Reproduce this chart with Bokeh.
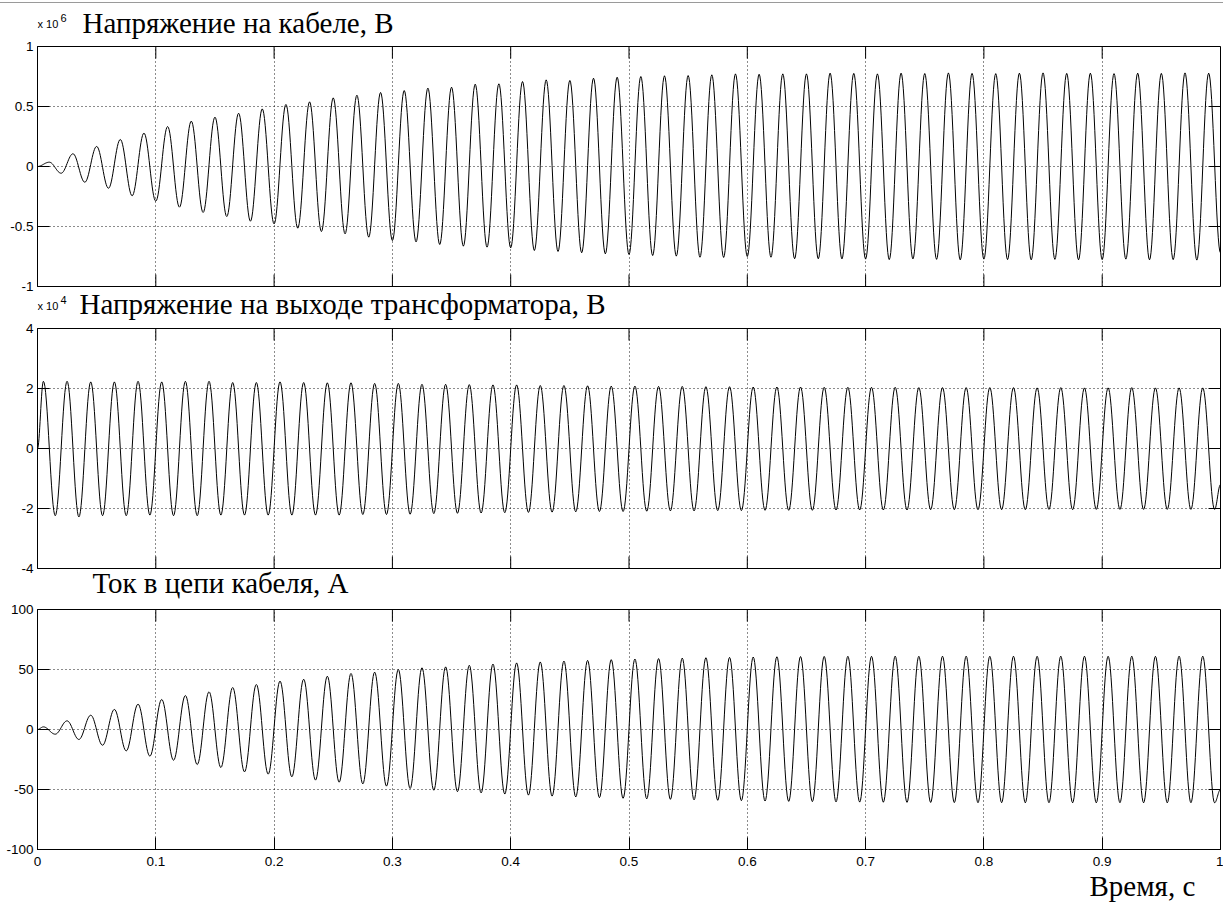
import numpy as np
from bokeh.plotting import figure
from bokeh.layouts import column
from bokeh.models import Range1d, FixedTicker, CustomJSTickFormatter, Label, Div
from bokeh.embed import file_html
from bokeh.resources import INLINE

# ---------------- data ----------------
X_TICKS = [0, 0.1, 0.2, 0.3, 0.4, 0.5, 0.6, 0.7, 0.8, 0.9, 1]
Y1_TICKS = [-1, -0.5, 0, 0.5, 1]
Y2_TICKS = [-4, -2, 0, 2, 4]
Y3_TICKS = [-100, -50, 0, 50, 100]

TITLE_1 = "Напряжение на кабеле, В"
TITLE_2 = "Напряжение на выходе трансформатора, В"
TITLE_3 = "Ток в цепи кабеля, А"
X_LABEL = "Время, с"
EXP_BASE = "x 10"
EXP_1 = "6"
EXP_2 = "4"

PERIOD = 0.02          # 50 Hz
T_END = 1.0

# Panel 1: cable voltage (x10^6 V); maxima at 0.01, 0.03, ... ; minima at 0.02, 0.04, ..., 1.00
V1_START = 0.0
V1_MAX = [0.036, 0.106, 0.167, 0.225, 0.278, 0.333, 0.378, 0.411, 0.444, 0.48,
          0.517, 0.539, 0.572, 0.594, 0.617, 0.633, 0.653, 0.661, 0.686, 0.689,
          0.708, 0.722, 0.717, 0.736, 0.744, 0.75, 0.756, 0.758, 0.764, 0.772,
          0.769, 0.772, 0.772, 0.778, 0.776, 0.772, 0.778, 0.775, 0.78, 0.776,
          0.774, 0.778, 0.78, 0.776, 0.778, 0.774, 0.778, 0.776, 0.78, 0.778]
V1_MIN = [-0.056, -0.131, -0.181, -0.244, -0.289, -0.339, -0.383, -0.417, -0.456, -0.478,
          -0.514, -0.542, -0.561, -0.589, -0.617, -0.628, -0.65, -0.664, -0.672, -0.678,
          -0.70, -0.708, -0.719, -0.728, -0.733, -0.742, -0.747, -0.756, -0.758, -0.75,
          -0.756, -0.769, -0.769, -0.77, -0.772, -0.776, -0.77, -0.774, -0.778, -0.772,
          -0.776, -0.778, -0.774, -0.778, -0.776, -0.772, -0.778, -0.776, -0.78, -0.72]

# Panel 2: transformer output voltage (x10^4 V); maxima at 0.005 + k*0.02, minima at 0.015 + k*0.02
V2_START = 0.0
V2_MAX = [2.24, 2.24, 2.22, 2.22, 2.24, 2.22, 2.24, 2.24, 2.2, 2.2,
          2.22, 2.2, 2.19, 2.19, 2.17, 2.17, 2.14, 2.14, 2.13, 2.12,
          2.12, 2.1, 2.1, 2.09, 2.08, 2.08, 2.07, 2.07, 2.06, 2.06,
          2.05, 2.05, 2.05, 2.04, 2.04, 2.04, 2.04, 2.03, 2.03, 2.03,
          2.03, 2.03, 2.02, 2.03, 2.02, 2.02, 2.03, 2.02, 2.02, 2.02]
V2_MIN = [-2.24, -2.28, -2.24, -2.24, -2.22, -2.24, -2.24, -2.22, -2.22, -2.22,
          -2.22, -2.22, -2.22, -2.2, -2.2, -2.19, -2.17, -2.16, -2.15, -2.14,
          -2.13, -2.12, -2.11, -2.1, -2.1, -2.09, -2.08, -2.08, -2.07, -2.07,
          -2.06, -2.06, -2.06, -2.05, -2.05, -2.05, -2.05, -2.04, -2.04, -2.04,
          -2.04, -2.04, -2.03, -2.04, -2.03, -2.03, -2.03, -2.03, -2.03, -2.03]
V2_END = -1.2

# Panel 3: cable current (A); maxima at 0.005 + k*0.02, minima at 0.015 + k*0.02
I3_START = 0.0
I3_MAX = [2.2, 7.2, 11.9, 16.7, 21.1, 25.0, 28.3, 31.4, 35.0, 37.5,
          40.3, 41.9, 44.4, 46.7, 47.8, 50.0, 51.4, 52.2, 53.5, 54.5,
          55.5, 56.3, 57.0, 57.6, 58.2, 58.7, 59.1, 59.5, 59.8, 60.1,
          60.4, 60.6, 60.8, 60.9, 61.0, 61.0, 61.1, 61.0, 61.1, 61.1,
          61.0, 61.1, 61.0, 61.1, 61.1, 61.0, 61.1, 61.0, 61.1, 61.1]
I3_MIN = [-3.9, -8.3, -13.1, -17.8, -22.2, -25.6, -29.2, -31.7, -35.3, -37.2,
          -39.4, -42.2, -43.9, -45.3, -47.2, -49.2, -50.6, -51.8, -52.8, -53.8,
          -54.7, -55.5, -56.2, -56.8, -57.3, -57.8, -58.2, -58.6, -59.0, -59.3,
          -59.6, -59.9, -60.1, -60.3, -60.5, -60.6, -60.7, -60.8, -60.9, -61.0,
          -61.0, -61.1, -61.0, -61.1, -61.1, -61.0, -61.1, -61.1, -61.0, -61.1]
I3_END = -50.0


# ---------------- waveform through the read extrema ----------------
def extrema_series(first_max_t, start_v, maxima, minima, end_v=None):
    ts, vs = [0.0], [start_v]
    for k, (mx, mn) in enumerate(zip(maxima, minima)):
        tmax = first_max_t + k * PERIOD
        ts += [tmax, tmax + PERIOD / 2]
        vs += [mx, mn]
    if end_v is not None and ts[-1] < T_END - 1e-9:
        ts.append(T_END)
        vs.append(end_v)
    return ts, vs


def wave(ts, vs, n=16):
    xo, yo = [], []
    s = np.linspace(0.0, 1.0, n, endpoint=False)
    for i in range(len(ts) - 1):
        t0, t1, v0, v1 = ts[i], ts[i + 1], vs[i], vs[i + 1]
        xo.extend(t0 + (t1 - t0) * s)
        yo.extend((v0 + v1) / 2 + (v0 - v1) / 2 * np.cos(np.pi * s))
    xo.append(ts[-1])
    yo.append(vs[-1])
    return xo, yo


# ---------------- styling / layout ----------------
TICK_FONT = "Liberation Sans"
SERIF = "Liberation Serif"
TITLE_PX = 29
EXP_PX = 11
TICK_SIZE = "13.5px"
TICK_LEN = 12
W = 1223
BL, BR = 37, 3
FRAME_H = 240

fmt = CustomJSTickFormatter(code="return tick.toString();")


def style_axis(ax, ticks):
    ax.ticker = FixedTicker(ticks=ticks)
    ax.formatter = fmt
    ax.major_tick_in = TICK_LEN
    ax.major_tick_out = 0
    ax.minor_tick_in = 0
    ax.minor_tick_out = 0
    ax.axis_line_color = "black"
    ax.major_tick_line_color = "black"
    ax.major_label_text_font = TICK_FONT
    ax.major_label_text_font_size = TICK_SIZE
    ax.major_label_text_color = "black"


def panel(ts, vs, yr, yticks, top, bottom, show_x_axis, margin_top=0):
    p = figure(width=W, height=top + FRAME_H + bottom, output_backend="svg",
               toolbar_location=None, x_range=Range1d(0, 1), y_range=Range1d(*yr),
               x_axis_location="below" if show_x_axis else None,
               min_border_left=BL, min_border_right=BR, min_border_top=top,
               min_border_bottom=bottom, background_fill_color="white",
               border_fill_color="white", border_fill_alpha=0.0,
               outline_line_color="black", outline_line_width=1,
               margin=(margin_top, 0, 0, 0))
    xw, yw = wave(ts, vs)
    p.line(xw, yw, line_color="black", line_width=1)

    style_axis(p.yaxis[0], yticks)
    p.yaxis.major_label_standoff = 4
    if show_x_axis:
        style_axis(p.xaxis[0], X_TICKS)
        p.xaxis.major_label_standoff = 7
    else:
        # inward ticks along the bottom edge
        p.ray(x=X_TICKS, y=[yr[0]] * len(X_TICKS), length=TICK_LEN, angle=np.pi / 2,
              length_units="screen", line_color="black", line_width=1)

    p.xgrid.ticker = FixedTicker(ticks=X_TICKS)
    p.ygrid.ticker = FixedTicker(ticks=yticks)
    for g in (p.xgrid[0], p.ygrid[0]):
        g.grid_line_color = "black"
        g.grid_line_dash = "1 3"
        g.grid_line_width = 1
        g.grid_line_alpha = 0.9

    # inward ticks on the top and right edges of the box
    p.ray(x=X_TICKS, y=[yr[1]] * len(X_TICKS), length=TICK_LEN, angle=-np.pi / 2,
          length_units="screen", line_color="black", line_width=1)
    p.ray(x=[1.0] * len(yticks), y=yticks, length=TICK_LEN, angle=np.pi,
          length_units="screen", line_color="black", line_width=1)
    return p


def strip(h, margin_top=0):
    # transparent text band; its frame lines up with the panels' frames
    s = figure(width=W, height=h, output_backend="svg", toolbar_location=None,
               x_range=Range1d(0, 1), y_range=Range1d(0, 1),
               x_axis_location=None, y_axis_location=None,
               min_border_left=BL, min_border_right=BR, min_border_top=0,
               min_border_bottom=0, outline_line_color=None,
               background_fill_color="white", background_fill_alpha=0.0,
               border_fill_color="white", border_fill_alpha=0.0,
               margin=(margin_top, 0, 0, 0))
    s.xgrid.visible = False
    s.ygrid.visible = False
    return s


# the label anchor ends up at the middle of the font box, which sits this far above the baseline
CENTER_SHIFT = {"Liberation Serif": 0.3375, "Liberation Sans": 0.3465}


def text(s, txt, x, strip_bottom, baseline, px, font):
    anchor = baseline - CENTER_SHIFT[font] * px
    s.add_layout(Label(x=x, y=strip_bottom - anchor, x_units="screen", y_units="screen",
                       text=txt, text_font=font, text_font_size=f"{px}px",
                       text_color="black", text_align="left",
                       text_baseline="alphabetic"))


t1, v1 = [0.0], [V1_START]
for k, (mx, mn) in enumerate(zip(V1_MAX, V1_MIN)):
    t1 += [PERIOD / 2 + k * PERIOD, PERIOD + k * PERIOD]
    v1 += [mx, mn]
t2, v2 = extrema_series(PERIOD / 4, V2_START, V2_MAX, V2_MIN, V2_END)
t3, v3 = extrema_series(PERIOD / 4, I3_START, I3_MAX, I3_MIN, I3_END)

# page rows (px): rule 0-3 | s1 3-42 | p1 38-294 | s2 284-322 | p2 320-576 | s3 563-601 | p3 601-873 | s4 868-907
rule = Div(text="", width=W, height=3, margin=(0, 0, 0, 0),
           styles={"border-bottom": "1px solid #9a9a9a", "box-sizing": "border-box"})
s1 = strip(39)
p1 = panel(t1, v1, (-1, 1), Y1_TICKS, 8, 8, False, margin_top=-4)
s2 = strip(38, margin_top=-10)
p2 = panel(t2, v2, (-4, 4), Y2_TICKS, 8, 8, False, margin_top=-2)
s3 = strip(38, margin_top=-13)
p3 = panel(t3, v3, (-100, 100), Y3_TICKS, 8, 24, True)
s4 = strip(39, margin_top=-5)

# text, x from frame left, strip bottom (page px), baseline (page px)
text(s1, TITLE_1, 45, 42, 32, TITLE_PX, SERIF)
text(s1, EXP_BASE, 0, 42, 27, EXP_PX, TICK_FONT)
text(s1, EXP_1, 23, 42, 21.5, EXP_PX, TICK_FONT)

text(s2, TITLE_2, 42, 322, 313, TITLE_PX, SERIF)
text(s2, EXP_BASE, 0, 322, 309, EXP_PX, TICK_FONT)
text(s2, EXP_2, 23, 322, 303.5, EXP_PX, TICK_FONT)

text(s3, TITLE_3, 55, 601, 592, TITLE_PX, SERIF)
text(s4, X_LABEL, 1052, 907, 895, TITLE_PX, SERIF)

layout = column(rule, s1, p1, s2, p2, s3, p3, s4, spacing=0)
open("out.html", "w").write(file_html(layout, INLINE))
